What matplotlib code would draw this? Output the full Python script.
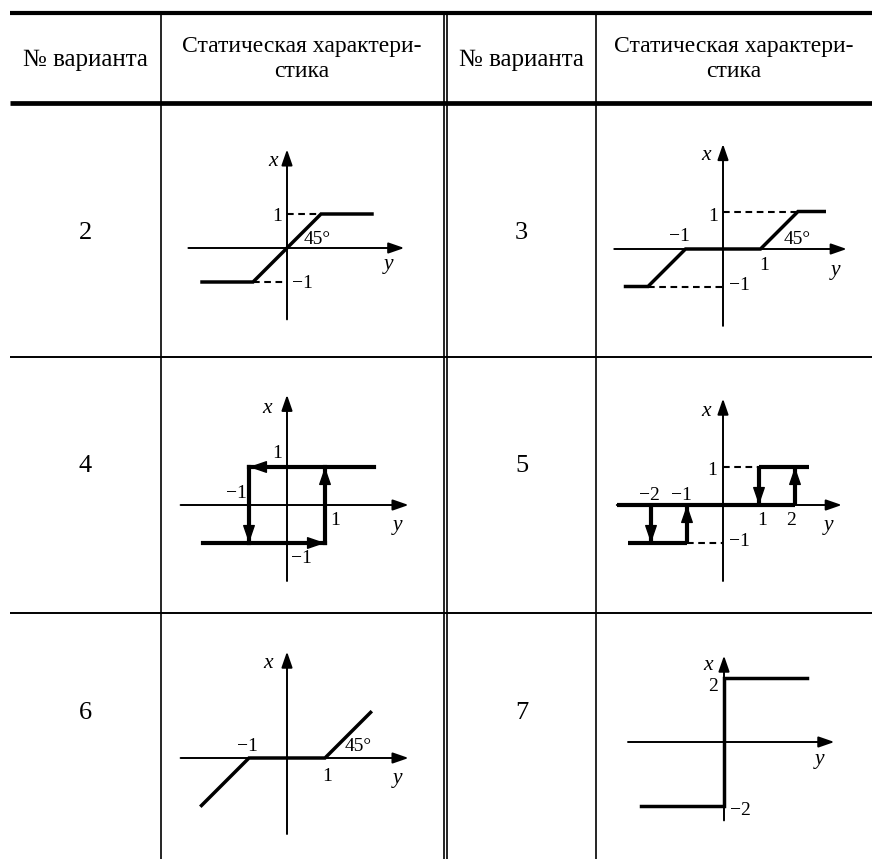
"""Table of static characteristics for variants 2-7."""
import matplotlib
matplotlib.use("Agg")
import matplotlib.pyplot as plt

W, H = 872, 859
plt.rcParams["font.family"] = ["Liberation Serif", "DejaVu Serif"]
M = "\u2212"

# ---------------------------------------------------------------------------
# data: input y (horizontal) -> output x (vertical), in diagram units
# ---------------------------------------------------------------------------
variants = ["2", "3", "4", "5", "6", "7"]
head_num = "№ варианта"
head_char = "Статическая характери-\nстика"

v2_in = [-2.5, -1, 1, 2.5]
v2_out = [-1, -1, 1, 1]
v2_dash = [((0, 1), (1, 1)), ((-1, -1), (0, -1))]

v3_in = [-2.6, -2, -1, 1, 2, 2.7]
v3_out = [-1, -1, 0, 0, 1, 1]
v3_dash = [((0, 1), (2, 1)), ((-2, -1), (0, -1))]

# hysteresis loop, arrow at the end of every segment
v4_arrows = [((2.3, 1), (-1, 1)), ((-1, 1), (-1, -1)),
             ((-2.2, -1), (1, -1)), ((1, -1), (1, 1))]

v5_lines = [((1, 1), (2.4, 1)), ((-2.95, 0), (2, 0)), ((-2.65, -1), (-1, -1))]
v5_arrows = [((1, 1), (1, 0)), ((2, 0), (2, 1)),
             ((-2, 0), (-2, -1)), ((-1, -1), (-1, 0))]
v5_dash = [((0, 1), (1, 1)), ((-1, -1), (0, -1))]

v6_in = [-2.25, -1, 1, 2.2]
v6_out = [-1.25, 0, 0, 1.2]

v7_in = [-2.6, 0, 0, 2.6]
v7_out = [-2, -2, 2, 2]

# labels: text, y position, x position
v2_labels = [("x", -0.41, 2.53), ("y", 3.0, -0.5), ("1", -0.29, 0.93),
             (M + "1", 0.44, -1.03), ("45°", 0.88, 0.26)]
v3_labels = [("x", -0.45, 2.5), ("y", 2.99, -0.56), ("1", -0.27, 0.87),
             (M + "1", -1.15, 0.34), ("45°", 1.97, 0.26), ("1", 1.09, -0.43),
             (M + "1", 0.45, -0.97)]
v4_labels = [("x", -0.52, 2.54), ("y", 2.9, -0.53), ("1", -0.26, 1.36),
             (M + "1", -1.32, 0.31), ("1", 1.26, -0.42), (M + "1", 0.39, -1.41)]
v5_labels = [("x", -0.47, 2.47), ("y", 2.93, -0.53), ("1", -0.29, 0.92),
             (M + "2", -2.03, 0.26), (M + "1", -1.15, 0.26), ("1", 1.09, -0.42),
             ("2", 1.88, -0.42), (M + "1", 0.47, -0.97)]
v6_labels = [("x", -0.5, 2.5), ("y", 2.9, -0.53), (M + "1", -1.05, 0.29),
             ("1", 1.05, -0.48), ("45°", 1.87, 0.29)]
v7_labels = [("x", -0.5, 2.4), ("y", 3.0, -0.55), ("2", -0.35, 1.72),
             (M + "2", 0.5, -2.13)]

# ---------------------------------------------------------------------------
# layout (pixels)
# ---------------------------------------------------------------------------
COLS = [(10, 161), (161, 443), (447, 596), (596, 872)]
ROWS = [(105, 357), (357, 613), (613, 859)]
NUM_Y = [233, 466, 713]

# origin px, unit x, unit y, axis extents (ymin, ymax, xmin, xmax)
DIAG = {
    "2": ((287, 248), 34, 34, (-2.9, 3.45, -2.1, 2.9)),
    "3": ((723, 249), 37.5, 37.5, (-2.9, 3.3, -2.05, 2.8)),
    "4": ((287, 505), 38, 38, (-2.8, 3.2, -2.0, 2.9)),
    "5": ((723, 505), 36, 38, (-2.95, 3.3, -2.0, 2.8)),
    "6": ((287, 758), 38, 38, (-2.8, 3.2, -2.0, 2.8)),
    "7": ((724, 742), 32, 32, (-3.0, 3.45, -2.45, 2.7)),
}

fig = plt.figure(figsize=(W / 100, H / 100), dpi=100)
base = fig.add_axes([0, 0, 1, 1])
base.set_xlim(0, W)
base.set_ylim(H, 0)
base.axis("off")

# table rules
base.plot([10, W], [13, 13], color="k", lw=3.0, solid_capstyle="butt")
base.plot([10, W], [102.5, 102.5], color="k", lw=3.4, solid_capstyle="butt")
for y in (357, 613):
    base.plot([10, W], [y, y], color="k", lw=1.4, solid_capstyle="butt")
for x in (161, 443.5, 446.5, 596):
    base.plot([x, x], [15, H], color="k", lw=1.2, solid_capstyle="butt")

# header
for c in (0, 2):
    base.text(sum(COLS[c]) / 2, 60, head_num, ha="center", va="center", fontsize=18)
for c in (1, 3):
    base.text(sum(COLS[c]) / 2, 59, head_char, ha="center", va="center",
              fontsize=17, linespacing=1.3)

# variant numbers
for i, v in enumerate(variants):
    col = 0 if i % 2 == 0 else 2
    base.text(sum(COLS[col]) / 2, NUM_Y[i // 2], v, ha="center", va="center",
              fontsize=19)


def arrow(ax, p0, p1, lw=1.4, hl=0.95, hw=0.33, ms=10):
    ax.annotate("", xy=p1, xytext=p0,
                arrowprops=dict(arrowstyle=f"-|>,head_length={hl},head_width={hw}",
                                mutation_scale=ms, lw=lw, color="k",
                                shrinkA=0, shrinkB=0))


def make_axes(v, i):
    (ox, oy), ux, uy, (y0, y1, x0, x1) = DIAG[v]
    col = 1 if i % 2 == 0 else 3
    cx0, cx1 = COLS[col][0] + 3, COLS[col][1] - 3
    cy0, cy1 = ROWS[i // 2][0] + 4, ROWS[i // 2][1] - 3
    ax = fig.add_axes([cx0 / W, 1 - cy1 / H, (cx1 - cx0) / W, (cy1 - cy0) / H])
    ax.set_xlim((cx0 - ox) / ux, (cx1 - ox) / ux)
    ax.set_ylim((oy - cy1) / uy, (oy - cy0) / uy)
    ax.axis("off")
    arrow(ax, (y0, 0), (y1, 0))
    arrow(ax, (0, x0), (0, x1))
    return ax


def put_labels(ax, labels):
    for s, a, b in labels:
        italic = s in ("x", "y")
        ax.text(a, b, s, ha="center", va="center", fontsize=15.5 if italic else 14,
                fontstyle="italic" if italic else "normal")


def dashes(ax, segs):
    for (a0, b0), (a1, b1) in segs:
        ax.plot([a0, a1], [b0, b1], color="k", lw=1.5, dashes=(3.2, 2.2))


def end_arrow(ax, p0, p1):
    dx, dy = p1[0] - p0[0], p1[1] - p0[1]
    n = (dx ** 2 + dy ** 2) ** 0.5
    arrow(ax, (p1[0] - 0.4 * dx / n, p1[1] - 0.4 * dy / n), p1,
          lw=1.0, hl=1.1, hw=0.38)


THICK = 2.5
HEAVY = 3.0

ax = make_axes("2", 0)
ax.plot(v2_in, v2_out, color="k", lw=THICK, solid_joinstyle="miter")
dashes(ax, v2_dash)
put_labels(ax, v2_labels)

ax = make_axes("3", 1)
ax.plot(v3_in, v3_out, color="k", lw=THICK, solid_joinstyle="miter")
dashes(ax, v3_dash)
put_labels(ax, v3_labels)

ax = make_axes("4", 2)
for p0, p1 in v4_arrows:
    ax.plot([p0[0], p1[0]], [p0[1], p1[1]], color="k", lw=HEAVY, solid_capstyle="projecting")
for p0, p1 in v4_arrows:
    end_arrow(ax, p0, p1)
put_labels(ax, v4_labels)

ax = make_axes("5", 3)
for p0, p1 in v5_lines:
    ax.plot([p0[0], p1[0]], [p0[1], p1[1]], color="k", lw=HEAVY, solid_capstyle="butt")
for p0, p1 in v5_arrows:
    ax.plot([p0[0], p1[0]], [p0[1], p1[1]], color="k", lw=HEAVY, solid_capstyle="butt")
    end_arrow(ax, p0, p1)
dashes(ax, v5_dash)
put_labels(ax, v5_labels)

ax = make_axes("6", 4)
ax.plot(v6_in, v6_out, color="k", lw=THICK, solid_joinstyle="miter")
put_labels(ax, v6_labels)

ax = make_axes("7", 5)
ax.plot(v7_in, v7_out, color="k", lw=THICK, solid_joinstyle="miter")
put_labels(ax, v7_labels)

fig.savefig("out.png", dpi=100)
